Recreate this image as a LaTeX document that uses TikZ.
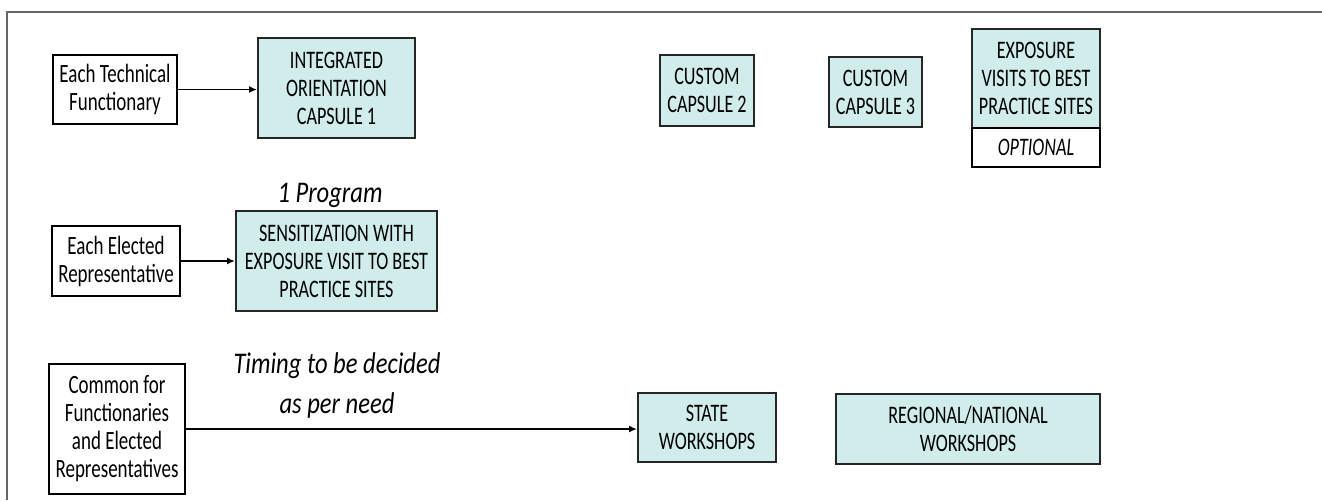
\documentclass[tikz,border=0pt]{standalone}
\usepackage{fontspec}
\setmainfont{Carlito}
\newfontfamily\boxfont{Carlito}[FakeStretch=0.72]
\newfontfamily\notefont{Carlito}[FakeStretch=0.82]
\usetikzlibrary{arrows.meta}
\definecolor{capsule}{RGB}{208,237,236}

\begin{document}
\begin{tikzpicture}[x=0.5pt, y=-0.5pt,
    who/.style={draw=black, line width=1pt, fill=white, inner sep=0pt, align=center, font=\boxfont\fontsize{13.2}{14}\selectfont},
    prog/.style={draw=black!85, line width=1pt, fill=capsule, inner sep=0pt, align=center, font=\boxfont\fontsize{12.6}{14}\selectfont},
    note/.style={align=center, font=\notefont\fontsize{15}{20}\selectfont\itshape},
    link/.style={-{Latex[length=4pt,width=3.5pt]}, line width=0.9pt}]
        \useasboundingbox (0,0) rectangle (1322,500);
        \draw[black!60, line width=0.7pt] (1322,12) -- (7,12) -- (7,500);

        % who attends
        \node[who, minimum width=62pt, minimum height=34.5pt] (tech) at (115,89.5) {Each Technical\\Functionary};
        \node[who, minimum width=64pt, minimum height=35pt] (elect) at (116,261) {Each Elected\\Representative};
        \node[who, minimum width=68pt, minimum height=65pt] (common) at (117,429) {Common for\\Functionaries\\and Elected\\Representatives};

        % capsules
        \node[prog, minimum width=78.5pt, minimum height=50pt] (integ) at (336.5,88) {INTEGRATED\\ORIENTATION\\CAPSULE 1};
        \node[prog, minimum width=47pt, minimum height=35.5pt] (cust2) at (707,90.5) {CUSTOM\\CAPSULE 2};
        \node[prog, minimum width=46.5pt, minimum height=35pt] (cust3) at (875.5,92) {CUSTOM\\CAPSULE 3};
        \node[prog, minimum width=64pt, minimum height=49.5pt] (expo) at (1036,78.5) {EXPOSURE\\VISITS TO BEST\\PRACTICE SITES};
        \node[who, minimum width=64pt, minimum height=19.5pt, font=\boxfont\fontsize{12.6}{14}\selectfont\itshape] (opt) at (1036,147.5) {OPTIONAL};

        \node[prog, minimum width=100.5pt, minimum height=50pt] (sens) at (336.5,261) {SENSITIZATION WITH\\EXPOSURE VISIT TO BEST\\PRACTICE SITES};
        \node[note] (once) at (330,195) {1 Program};

        \node[prog, minimum width=69pt, minimum height=34.5pt] (state) at (707,427.5) {STATE\\WORKSHOPS};
        \node[prog, minimum width=132pt, minimum height=35pt] (region) at (968,429) {REGIONAL/NATIONAL\\WORKSHOPS};
        \node[note] (timing) at (337,385) {Timing to be decided\\as per need};

        \draw[link] (tech.east) -- (tech.east -| integ.west);
        \draw[link] (elect.east) -- (sens.west);
        \draw[link] (common.east) -- (common.east -| state.west);

\end{tikzpicture}
\end{document}
